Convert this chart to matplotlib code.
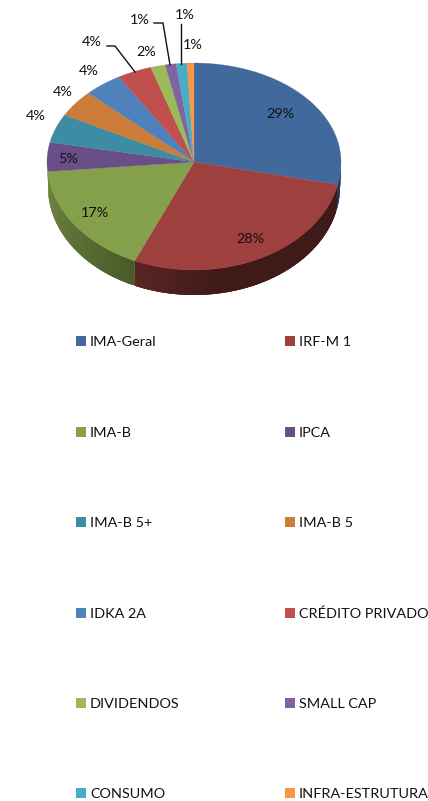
import numpy as np
import matplotlib
matplotlib.use("Agg")
import matplotlib.pyplot as plt
from matplotlib.patches import Rectangle
from matplotlib.colors import to_rgb

categories = ["IMA-Geral", "IRF-M 1", "IMA-B", "IPCA", "IMA-B 5+", "IMA-B 5", "IDKA 2A",
              "CRÉDITO PRIVADO", "DIVIDENDOS", "SMALL CAP", "CONSUMO", "INFRA-ESTRUTURA"]
values = [28.4, 28.3, 17.0, 4.6, 4.7, 4.4, 4.2, 3.8, 1.6, 1.2, 1.2, 0.75]
pct_labels = ["29%", "28%", "17%", "5%", "4%", "4%", "4%", "4%", "2%", "1%", "1%", "1%"]
colors = ["#41699c", "#9e413e", "#84a04b", "#6a4e88", "#3d8ca4", "#cb7c38",
          "#4f81bd", "#c0504d", "#9bbb59", "#8064a2", "#4bacc6", "#f79646"]

# pixel positions of the percent labels
label_x = [280, 250, 95, 68, 36, 63, 89, 92, 146, 140, 185, 193]
label_y = [114, 239, 213, 159, 116, 92, 71, 42, 52, 20, 15, 45]

plt.rcParams['font.family'] = ['Lato', 'DejaVu Sans']
FS = 10.4

fig = plt.figure(figsize=(4.28, 8.01), dpi=100)
ax = fig.add_axes([0, 0, 1, 1])
ax.set_xlim(0, 428)
ax.set_ylim(801, 0)
ax.axis('off')

cx, cy, rx, ry_top, ry_bot = 194, 162, 147, 99, 108
low_cy, low_rx = 187, 146


def rim(theta):
    # theta in degrees, clockwise from the top of the pie
    t = np.radians(theta)
    y = -np.cos(t)
    return cx + rx * np.sin(t), cy + y * np.where(y < 0, ry_top, ry_bot)


def low_rim(theta):
    t = np.radians(theta)
    return cx + low_rx * np.sin(t), low_cy - ry_bot * np.cos(t)


edges = np.concatenate([[0], np.cumsum(values)]) / np.sum(values) * 360

# side of the pie, thin overlapping strips so it can be shaded
for i in range(3):
    th = np.arange(max(edges[i], 88), min(edges[i + 1], 272), 1.0)
    for a in th:
        b = min(a + 3, edges[i + 1])
        if i == 0:
            f = 0.55
        elif i == 1:
            f = np.interp(a, [edges[1], 170, edges[2]], [0.4, 0.4, 0.57])
        else:
            f = np.interp(a, [edges[2], edges[3]], [0.56, 0.85])
        x1, y1 = rim(np.array([a, b]))
        x2, y2 = low_rim(np.array([a, b]))
        ax.fill([x1[0], x1[1], x2[1], x2[0]], [y1[0], y1[1], y2[1], y2[0]],
                color=np.array(to_rgb(colors[i])) * f, lw=0)

# top of the pie
for i in range(len(values)):
    th = np.linspace(edges[i], edges[i + 1], 80)
    x, y = rim(th)
    ax.fill(np.r_[cx, x], np.r_[cy, y], color=colors[i], lw=0.2)

for x, y, s in zip(label_x, label_y, pct_labels):
    ax.text(x, y, s, fontsize=FS, color="#111111", ha='center', va='center')

# leader lines
ax.plot([107, 115, 135], [46, 46, 72], color="#111111", lw=1)
ax.plot([154, 163, 170], [23, 23, 65], color="#111111", lw=1)
ax.plot([181, 181], [24, 64], color="#111111", lw=1)

# legend
col_x = [76, 285]
row_y = [342, 433, 523, 614, 704, 794]
for i, name in enumerate(categories):
    x, y = col_x[i % 2], row_y[i // 2]
    ax.add_patch(Rectangle((x, y - 6), 10, 10, color=colors[i], lw=0))
    ax.text(x + 14, y, name, fontsize=FS, color="#111111", ha='left', va='center')

fig.savefig("out.png", dpi=100)
